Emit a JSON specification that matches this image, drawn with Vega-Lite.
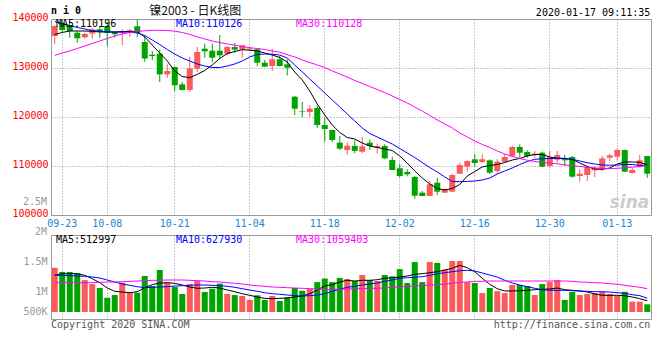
{
"$schema": "https://vega.github.io/schema/vega-lite/v6.json",
"padding": {"left": 11, "top": 4, "right": 0, "bottom": 0},
"background": "white",
"bounds": "flush",
"spacing": 20,
"config": {"view": {"stroke": "#999999", "strokeWidth": 1}, "axis": {"labelFont": "DejaVu Sans Mono", "labelFontSize": 10}},
"datasets": {"k": [
{"d":"2019-09-20","o":136530,"h":138670,"l":134840,"c":138570,"v":2010000,"m5":136840,"m10":139490,"m30":132550,"vm5":1668000,"vm10":1668000,"vm30":1332000},
{"d":"2019-09-23","o":139180,"h":139900,"l":137350,"c":137760,"v":1820000,"m5":137250,"m10":139080,"m30":133060,"vm5":1741000,"vm10":1668000,"vm30":1332000},
{"d":"2019-09-24","o":138780,"h":139590,"l":136180,"c":137550,"v":1820000,"m5":137550,"m10":138670,"m30":133470,"vm5":1741000,"vm10":1650000,"vm30":1332000},
{"d":"2019-09-25","o":137200,"h":137550,"l":135160,"c":136060,"v":1760000,"m5":137550,"m10":138270,"m30":133980,"vm5":1741000,"vm10":1636000,"vm30":1332000},
{"d":"2019-09-26","o":136270,"h":137140,"l":136020,"c":136940,"v":1450000,"m5":137550,"m10":137960,"m30":134490,"vm5":1668000,"vm10":1623000,"vm30":1332000},
{"d":"2019-09-27","o":137040,"h":138160,"l":135980,"c":137860,"v":1270000,"m5":137490,"m10":137650,"m30":135000,"vm5":1514000,"vm10":1591000,"vm30":1332000},
{"d":"2019-09-30","o":137900,"h":138570,"l":136180,"c":137350,"v":1090000,"m5":137350,"m10":137510,"m30":135510,"vm5":1332000,"vm10":1545000,"vm30":1350000},
{"d":"2019-10-08","o":138570,"h":139390,"l":134490,"c":137140,"v":650000,"m5":137350,"m10":137410,"m30":136020,"vm5":1091000,"vm10":1455000,"vm30":1364000},
{"d":"2019-10-09","o":137350,"h":137450,"l":136180,"c":136880,"v":770000,"m5":137350,"m10":137350,"m30":136530,"vm5":941000,"vm10":1364000,"vm30":1364000},
{"d":"2019-10-10","o":137200,"h":137900,"l":134690,"c":137550,"v":1330000,"m5":137410,"m10":137350,"m30":136940,"vm5":909000,"vm10":1273000,"vm30":1377000},
{"d":"2019-10-11","o":137200,"h":138020,"l":136390,"c":137690,"v":880000,"m5":137490,"m10":137350,"m30":137250,"vm5":877000,"vm10":1214000,"vm30":1395000},
{"d":"2019-10-14","o":138510,"h":139900,"l":136330,"c":137200,"v":880000,"m5":137410,"m10":137140,"m30":137450,"vm5":923000,"vm10":1150000,"vm30":1409000},
{"d":"2019-10-15","o":135310,"h":136530,"l":131290,"c":131940,"v":1640000,"m5":136330,"m10":136630,"m30":137590,"vm5":1105000,"vm10":1105000,"vm30":1423000},
{"d":"2019-10-16","o":132710,"h":133470,"l":131570,"c":132450,"v":1180000,"m5":134690,"m10":135710,"m30":137690,"vm5":1241000,"vm10":1123000,"vm30":1441000},
{"d":"2019-10-17","o":132920,"h":133820,"l":127140,"c":128710,"v":1910000,"m5":133060,"m10":134800,"m30":137690,"vm5":1318000,"vm10":1136000,"vm30":1441000},
{"d":"2019-10-18","o":128710,"h":130760,"l":128020,"c":129390,"v":1330000,"m5":131430,"m10":133780,"m30":137650,"vm5":1332000,"vm10":1150000,"vm30":1455000},
{"d":"2019-10-21","o":130200,"h":130300,"l":125310,"c":126470,"v":1140000,"m5":129390,"m10":132860,"m30":137510,"vm5":1305000,"vm10":1182000,"vm30":1455000},
{"d":"2019-10-22","o":126670,"h":127140,"l":125400,"c":125510,"v":820000,"m5":128270,"m10":132040,"m30":137250,"vm5":1227000,"vm10":1195000,"vm30":1455000},
{"d":"2019-10-23","o":125510,"h":132250,"l":125150,"c":129940,"v":1260000,"m5":128020,"m10":131430,"m30":136840,"vm5":1136000,"vm10":1214000,"vm30":1441000},
{"d":"2019-10-24","o":129860,"h":134290,"l":129180,"c":133270,"v":1410000,"m5":128710,"m10":130820,"m30":136370,"vm5":1077000,"vm10":1227000,"vm30":1423000},
{"d":"2019-10-25","o":133940,"h":134960,"l":132100,"c":133410,"v":910000,"m5":129490,"m10":130410,"m30":135920,"vm5":1091000,"vm10":1227000,"vm30":1409000},
{"d":"2019-10-28","o":133530,"h":134960,"l":131220,"c":132100,"v":1060000,"m5":130610,"m10":130100,"m30":135510,"vm5":1123000,"vm10":1214000,"vm30":1377000},
{"d":"2019-10-29","o":133530,"h":136740,"l":131780,"c":132590,"v":1290000,"m5":131940,"m10":130100,"m30":135200,"vm5":1091000,"vm10":1195000,"vm30":1364000},
{"d":"2019-10-30","o":132920,"h":134490,"l":132590,"c":134290,"v":820000,"m5":132960,"m10":130410,"m30":134900,"vm5":1000000,"vm10":1168000,"vm30":1332000},
{"d":"2019-10-31","o":134290,"h":135100,"l":133120,"c":133740,"v":770000,"m5":133370,"m10":130820,"m30":134650,"vm5":923000,"vm10":1123000,"vm30":1305000},
{"d":"2019-11-01","o":133820,"h":134690,"l":132100,"c":134630,"v":730000,"m5":133740,"m10":131430,"m30":134390,"vm5":832000,"vm10":1059000,"vm30":1273000},
{"d":"2019-11-04","o":133780,"h":134290,"l":133470,"c":133980,"v":550000,"m5":133630,"m10":132250,"m30":134140,"vm5":759000,"vm10":1000000,"vm30":1227000},
{"d":"2019-11-05","o":133820,"h":133900,"l":130410,"c":131080,"v":760000,"m5":133470,"m10":132760,"m30":133980,"vm5":682000,"vm10":941000,"vm30":1195000},
{"d":"2019-11-06","o":131080,"h":131630,"l":130270,"c":130270,"v":550000,"m5":133060,"m10":132860,"m30":133780,"vm5":623000,"vm10":877000,"vm30":1168000},
{"d":"2019-11-07","o":130410,"h":133940,"l":129390,"c":131780,"v":730000,"m5":132650,"m10":132800,"m30":133470,"vm5":605000,"vm10":832000,"vm30":1136000},
{"d":"2019-11-08","o":131780,"h":132450,"l":130340,"c":130410,"v":500000,"m5":132140,"m10":132650,"m30":133220,"vm5":623000,"vm10":805000,"vm30":1123000},
{"d":"2019-11-11","o":130750,"h":131780,"l":128490,"c":130060,"v":670000,"m5":131220,"m10":132040,"m30":132710,"vm5":636000,"vm10":773000,"vm30":1105000},
{"d":"2019-11-12","o":124140,"h":124290,"l":120410,"c":121690,"v":1090000,"m5":129180,"m10":130610,"m30":132250,"vm5":682000,"vm10":741000,"vm30":1091000},
{"d":"2019-11-13","o":121200,"h":123060,"l":120000,"c":121080,"v":970000,"m5":127550,"m10":129180,"m30":131630,"vm5":727000,"vm10":727000,"vm30":1077000},
{"d":"2019-11-14","o":121020,"h":122380,"l":120000,"c":121690,"v":1060000,"m5":125310,"m10":127760,"m30":131120,"vm5":832000,"vm10":741000,"vm30":1059000},
{"d":"2019-11-15","o":121840,"h":122310,"l":117760,"c":118370,"v":1360000,"m5":122650,"m10":126330,"m30":130610,"vm5":1000000,"vm10":773000,"vm30":1045000},
{"d":"2019-11-18","o":118370,"h":119860,"l":114960,"c":117550,"v":1520000,"m5":120410,"m10":124900,"m30":130100,"vm5":1182000,"vm10":832000,"vm30":1032000},
{"d":"2019-11-19","o":117350,"h":117400,"l":114900,"c":115310,"v":1360000,"m5":118370,"m10":123470,"m30":129390,"vm5":1245000,"vm10":941000,"vm30":1023000},
{"d":"2019-11-20","o":114760,"h":116120,"l":113270,"c":113530,"v":1550000,"m5":116840,"m10":122040,"m30":128780,"vm5":1364000,"vm10":1036000,"vm30":1032000},
{"d":"2019-11-21","o":113270,"h":114840,"l":112390,"c":114140,"v":1500000,"m5":115820,"m10":120610,"m30":128160,"vm5":1441000,"vm10":1123000,"vm30":1045000},
{"d":"2019-11-22","o":114100,"h":115270,"l":112590,"c":113080,"v":1410000,"m5":115510,"m10":119180,"m30":127450,"vm5":1409000,"vm10":1168000,"vm30":1059000},
{"d":"2019-11-25","o":112920,"h":115920,"l":112590,"c":114020,"v":1680000,"m5":114690,"m10":117760,"m30":126840,"vm5":1441000,"vm10":1227000,"vm30":1059000},
{"d":"2019-11-26","o":114760,"h":115430,"l":113270,"c":114080,"v":1450000,"m5":114080,"m10":116630,"m30":126220,"vm5":1441000,"vm10":1273000,"vm30":1077000},
{"d":"2019-11-27","o":113740,"h":114550,"l":112510,"c":114080,"v":1410000,"m5":113780,"m10":115920,"m30":125610,"vm5":1468000,"vm10":1318000,"vm30":1077000},
{"d":"2019-11-28","o":114080,"h":114430,"l":111370,"c":111570,"v":1680000,"m5":113470,"m10":115200,"m30":125000,"vm5":1532000,"vm10":1395000,"vm30":1091000},
{"d":"2019-11-29","o":111220,"h":111840,"l":109180,"c":109180,"v":1620000,"m5":113160,"m10":114490,"m30":124290,"vm5":1559000,"vm10":1455000,"vm30":1123000},
{"d":"2019-12-02","o":109530,"h":110350,"l":107610,"c":107960,"v":1950000,"m5":112040,"m10":113570,"m30":123570,"vm5":1591000,"vm10":1532000,"vm30":1136000},
{"d":"2019-12-03","o":108780,"h":109330,"l":107900,"c":108310,"v":1320000,"m5":110610,"m10":112650,"m30":122860,"vm5":1636000,"vm10":1559000,"vm30":1168000},
{"d":"2019-12-04","o":107760,"h":107960,"l":103330,"c":103940,"v":2270000,"m5":108980,"m10":111730,"m30":122040,"vm5":1714000,"vm10":1577000,"vm30":1182000},
{"d":"2019-12-05","o":104550,"h":104900,"l":103820,"c":103880,"v":1360000,"m5":107550,"m10":110710,"m30":121220,"vm5":1741000,"vm10":1605000,"vm30":1195000},
{"d":"2019-12-06","o":103880,"h":106940,"l":103880,"c":106270,"v":2270000,"m5":106330,"m10":109690,"m30":120310,"vm5":1786000,"vm10":1668000,"vm30":1227000},
{"d":"2019-12-09","o":106590,"h":107610,"l":104080,"c":104760,"v":2230000,"m5":105410,"m10":108780,"m30":119390,"vm5":1832000,"vm10":1741000,"vm30":1241000},
{"d":"2019-12-10","o":104550,"h":105450,"l":104490,"c":105250,"v":1920000,"m5":105100,"m10":107760,"m30":118570,"vm5":1909000,"vm10":1786000,"vm30":1273000},
{"d":"2019-12-11","o":104760,"h":108430,"l":104690,"c":108160,"v":2320000,"m5":105410,"m10":106840,"m30":117760,"vm5":1986000,"vm10":1832000,"vm30":1305000},
{"d":"2019-12-12","o":108430,"h":110670,"l":108430,"c":110200,"v":2320000,"m5":106220,"m10":106800,"m30":116730,"vm5":2123000,"vm10":1877000,"vm30":1350000},
{"d":"2019-12-13","o":109860,"h":111160,"l":108840,"c":111020,"v":1360000,"m5":107960,"m10":106840,"m30":115920,"vm5":2014000,"vm10":1895000,"vm30":1364000},
{"d":"2019-12-16","o":111370,"h":112390,"l":109860,"c":110610,"v":1320000,"m5":108880,"m10":106940,"m30":115100,"vm5":1832000,"vm10":1864000,"vm30":1395000},
{"d":"2019-12-17","o":110820,"h":112390,"l":110670,"c":111370,"v":860000,"m5":109800,"m10":107140,"m30":114390,"vm5":1532000,"vm10":1773000,"vm30":1395000},
{"d":"2019-12-18","o":111160,"h":111370,"l":108430,"c":108630,"v":1090000,"m5":110100,"m10":107550,"m30":113780,"vm5":1259000,"vm10":1682000,"vm30":1409000},
{"d":"2019-12-19","o":108980,"h":111370,"l":108430,"c":110880,"v":950000,"m5":110310,"m10":108370,"m30":113060,"vm5":1059000,"vm10":1591000,"vm30":1409000},
{"d":"2019-12-20","o":110880,"h":112390,"l":110670,"c":111840,"v":860000,"m5":110710,"m10":108980,"m30":112450,"vm5":955000,"vm10":1441000,"vm30":1409000},
{"d":"2019-12-23","o":112040,"h":114080,"l":111840,"c":113880,"v":1230000,"m5":111220,"m10":109590,"m30":111940,"vm5":955000,"vm10":1318000,"vm30":1409000},
{"d":"2019-12-24","o":113880,"h":114430,"l":111570,"c":112710,"v":1230000,"m5":111530,"m10":110310,"m30":111530,"vm5":968000,"vm10":1227000,"vm30":1409000},
{"d":"2019-12-25","o":112860,"h":113200,"l":111690,"c":112040,"v":1180000,"m5":112040,"m10":110920,"m30":111180,"vm5":986000,"vm10":1150000,"vm30":1409000},
{"d":"2019-12-26","o":112180,"h":113060,"l":111690,"c":112510,"v":770000,"m5":112350,"m10":111370,"m30":110920,"vm5":1014000,"vm10":1077000,"vm30":1409000},
{"d":"2019-12-27","o":112710,"h":112920,"l":109800,"c":109860,"v":1270000,"m5":112350,"m10":111470,"m30":110710,"vm5":1032000,"vm10":1014000,"vm30":1409000},
{"d":"2019-12-30","o":110000,"h":113060,"l":109650,"c":111840,"v":1360000,"m5":111840,"m10":111530,"m30":110610,"vm5":1045000,"vm10":986000,"vm30":1409000},
{"d":"2019-12-31","o":111290,"h":113060,"l":110670,"c":112250,"v":1450000,"m5":111570,"m10":111570,"m30":110450,"vm5":1091000,"vm10":986000,"vm30":1409000},
{"d":"2020-01-02","o":111570,"h":112250,"l":110000,"c":111160,"v":550000,"m5":111530,"m10":111570,"m30":110250,"vm5":1014000,"vm10":986000,"vm30":1409000},
{"d":"2020-01-03","o":111840,"h":112040,"l":107610,"c":107820,"v":910000,"m5":111330,"m10":111370,"m30":110060,"vm5":986000,"vm10":968000,"vm30":1395000},
{"d":"2020-01-06","o":107960,"h":109330,"l":106800,"c":108430,"v":770000,"m5":110610,"m10":111020,"m30":109900,"vm5":955000,"vm10":955000,"vm30":1364000},
{"d":"2020-01-07","o":108160,"h":110000,"l":106940,"c":109800,"v":820000,"m5":109900,"m10":110670,"m30":109730,"vm5":909000,"vm10":941000,"vm30":1350000},
{"d":"2020-01-08","o":109120,"h":110000,"l":107760,"c":109650,"v":860000,"m5":109390,"m10":110410,"m30":109590,"vm5":818000,"vm10":923000,"vm30":1332000},
{"d":"2020-01-09","o":109330,"h":112040,"l":108980,"c":111570,"v":910000,"m5":109330,"m10":110200,"m30":109490,"vm5":759000,"vm10":923000,"vm30":1318000},
{"d":"2020-01-10","o":111690,"h":112510,"l":111020,"c":112180,"v":820000,"m5":109590,"m10":110160,"m30":109450,"vm5":759000,"vm10":909000,"vm30":1286000},
{"d":"2020-01-13","o":111900,"h":113530,"l":111160,"c":113270,"v":730000,"m5":110410,"m10":110200,"m30":109530,"vm5":759000,"vm10":877000,"vm30":1259000},
{"d":"2020-01-14","o":113270,"h":113370,"l":108780,"c":108840,"v":920000,"m5":110820,"m10":110310,"m30":109630,"vm5":741000,"vm10":850000,"vm30":1214000},
{"d":"2020-01-15","o":108570,"h":109650,"l":108430,"c":109180,"v":470000,"m5":110820,"m10":110310,"m30":109760,"vm5":682000,"vm10":786000,"vm30":1168000},
{"d":"2020-01-16","o":109860,"h":112250,"l":109650,"c":111160,"v":470000,"m5":110760,"m10":110100,"m30":109880,"vm5":605000,"vm10":741000,"vm30":1123000},
{"d":"2020-01-17","o":112040,"h":112040,"l":107610,"c":108430,"v":350000,"m5":110196,"m10":110126,"m30":110128,"vm5":512997,"vm10":627930,"vm30":1059403}
]},
"vconcat": [
{
"width": 600, "height": 196,
"data": {"name": "k"},
"encoding": {"x": {"field": "d", "type": "ordinal", "scale": {"type": "band", "paddingInner": 0, "paddingOuter": 0},
  "axis": {"values": ["2019-09-23","2019-10-08","2019-10-21","2019-11-04","2019-11-18","2019-12-02","2019-12-16","2019-12-30","2020-01-13"],
    "labelExpr": "substring(datum.value, 5)", "labelAngle": 0, "labelColor": "#1a86d0", "labelPadding": 3,
    "ticks": false, "domain": false, "grid": true, "gridColor": "#999999", "gridDash": [1, 2], "title": null, "bandPosition": 0.5}}},
"layer": [
  {"mark": {"type": "rule", "strokeWidth": 1},
   "encoding": {"y": {"field": "l", "type": "quantitative", "scale": {"domain": [100000, 140000], "nice": false, "zero": false},
      "axis": {"values": [100000,105000,110000,115000,120000,125000,130000,135000,140000], "format": "d", "labelColor": "#ff0000", "labelPadding": 3, "labelOffset": -2,
        "ticks": false, "domain": false, "grid": true, "gridColor": "#999999", "gridDash": [1, 2], "title": null}},
     "y2": {"field": "h"},
     "color": {"condition": {"test": "datum.c >= datum.o", "value": "#fa5a5a"}, "value": "#00a400"}}},
  {"mark": {"type": "bar", "width": 6},
   "encoding": {"y": {"field": "o", "type": "quantitative"}, "y2": {"field": "c"},
     "color": {"condition": {"test": "datum.c >= datum.o", "value": "#fa5a5a"}, "value": "#00a400"}}},
  {"mark": {"type": "line", "color": "#000000", "strokeWidth": 1}, "encoding": {"y": {"field": "m5", "type": "quantitative"}}},
  {"mark": {"type": "line", "color": "#0000ff", "strokeWidth": 1}, "encoding": {"y": {"field": "m10", "type": "quantitative"}}},
  {"mark": {"type": "line", "color": "#ff00ff", "strokeWidth": 1}, "encoding": {"y": {"field": "m30", "type": "quantitative"}}},
  {"data": {"values": [{}]}, "mark": {"type": "text", "text": "MA5:110196", "align": "left", "baseline": "middle", "dx": 1.25, "font": "DejaVu Sans Mono", "fontSize": 10, "color": "#000000"},
   "encoding": {"x": {"datum": "2019-09-20", "type": "ordinal"}, "y": {"datum": 139080, "type": "quantitative"}}},
  {"data": {"values": [{}]}, "mark": {"type": "text", "text": "MA10:110126", "align": "left", "baseline": "middle", "dx": 1.25, "font": "DejaVu Sans Mono", "fontSize": 10, "color": "#0000ff"},
   "encoding": {"x": {"datum": "2019-10-21", "type": "ordinal"}, "y": {"datum": 139080, "type": "quantitative"}}},
  {"data": {"values": [{}]}, "mark": {"type": "text", "text": "MA30:110128", "align": "left", "baseline": "middle", "dx": 1.25, "font": "DejaVu Sans Mono", "fontSize": 10, "color": "#ff00ff"},
   "encoding": {"x": {"datum": "2019-11-12", "type": "ordinal"}, "y": {"datum": 139080, "type": "quantitative"}}},
  {"data": {"values": [{}]}, "mark": {"type": "text", "text": "n i 0", "align": "left", "baseline": "middle", "dx": -3.75, "font": "DejaVu Sans Mono", "fontSize": 10, "fontWeight": "bold", "color": "#000000"},
   "encoding": {"x": {"datum": "2019-09-20", "type": "ordinal"}, "y": {"datum": 141630, "type": "quantitative"}}},
  {"data": {"values": [{}]}, "mark": {"type": "text", "text": "镍2003 - 日K线图", "align": "center", "baseline": "middle", "dx": -2, "font": "Noto Sans CJK SC", "fontSize": 12, "color": "#111111"},
   "encoding": {"x": {"datum": "2019-10-24", "type": "ordinal"}, "y": {"datum": 141730, "type": "quantitative"}}},
  {"data": {"values": [{}]}, "mark": {"type": "text", "text": "2020-01-17 09:11:35", "align": "right", "baseline": "middle", "dx": 3, "font": "DejaVu Sans Mono", "fontSize": 10, "color": "#000000"},
   "encoding": {"x": {"datum": "2020-01-17", "type": "ordinal"}, "y": {"datum": 141220, "type": "quantitative"}}},
  {"data": {"values": [{}]}, "mark": {"type": "text", "text": "2.5M", "align": "right", "baseline": "middle", "dx": -7.75, "font": "DejaVu Sans Mono", "fontSize": 10, "color": "#999999"},
   "encoding": {"x": {"datum": "2019-09-20", "type": "ordinal"}, "y": {"datum": 102650, "type": "quantitative"}}},
  {"data": {"values": [{}]}, "mark": {"type": "text", "text": "sina", "align": "right", "baseline": "middle", "dx": 2, "font": "DejaVu Sans", "fontSize": 17, "fontWeight": "bold", "fontStyle": "italic", "color": "#cccccc"},
   "encoding": {"x": {"datum": "2020-01-17", "type": "ordinal"}, "y": {"datum": 102450, "type": "quantitative"}}}
]
},
{
"width": 600, "height": 84,
"data": {"name": "k"},
"encoding": {"x": {"field": "d", "type": "ordinal", "scale": {"type": "band", "paddingInner": 0, "paddingOuter": 0},
  "axis": {"values": ["2019-09-23","2019-10-08","2019-10-21","2019-11-04","2019-11-18","2019-12-02","2019-12-16","2019-12-30","2020-01-13"],
    "labels": false, "ticks": false, "domain": false, "grid": true, "gridColor": "#999999", "gridDash": [1, 2], "title": null, "bandPosition": 0.5}}},
"layer": [
  {"mark": {"type": "bar", "width": 6},
   "encoding": {"y": {"field": "v", "type": "quantitative", "scale": {"domain": [-318000, 3500000], "nice": false, "zero": false},
      "axis": {"values": [2545000, 2295000, 1605000, 932000, 695000, 45000],
        "labelExpr": "datum.value == 2295000 ? '1.5M' : datum.value == 932000 ? '1M' : datum.value == 45000 ? '500K' : ''",
        "labelColor": "#999999", "labelPadding": 4, "labelOverlap": false,
        "gridOpacity": {"condition": {"test": "datum.value == 2545000 || datum.value == 1605000 || datum.value == 695000", "value": 1}, "value": 0},
        "ticks": false, "domain": false, "grid": true, "gridColor": "#999999", "gridDash": [1, 2], "title": null}},
     "y2": {"datum": 0},
     "color": {"condition": {"test": "datum.c >= datum.o", "value": "#fa5a5a"}, "value": "#00a400"}}},
  {"mark": {"type": "line", "color": "#000000", "strokeWidth": 1}, "encoding": {"y": {"field": "vm5", "type": "quantitative"}}},
  {"mark": {"type": "line", "color": "#0000ff", "strokeWidth": 1}, "encoding": {"y": {"field": "vm10", "type": "quantitative"}}},
  {"mark": {"type": "line", "color": "#ff00ff", "strokeWidth": 1}, "encoding": {"y": {"field": "vm30", "type": "quantitative"}}},
  {"data": {"values": [{}]}, "mark": {"type": "text", "text": "MA5:512997", "align": "left", "baseline": "middle", "dx": 1.25, "font": "DejaVu Sans Mono", "fontSize": 10, "color": "#000000"},
   "encoding": {"x": {"datum": "2019-09-20", "type": "ordinal"}, "y": {"datum": 3295000, "type": "quantitative"}}},
  {"data": {"values": [{}]}, "mark": {"type": "text", "text": "MA10:627930", "align": "left", "baseline": "middle", "dx": 1.25, "font": "DejaVu Sans Mono", "fontSize": 10, "color": "#0000ff"},
   "encoding": {"x": {"datum": "2019-10-21", "type": "ordinal"}, "y": {"datum": 3295000, "type": "quantitative"}}},
  {"data": {"values": [{}]}, "mark": {"type": "text", "text": "MA30:1059403", "align": "left", "baseline": "middle", "dx": 1.25, "font": "DejaVu Sans Mono", "fontSize": 10, "color": "#ff00ff"},
   "encoding": {"x": {"datum": "2019-11-12", "type": "ordinal"}, "y": {"datum": 3295000, "type": "quantitative"}}},
  {"data": {"values": [{}]}, "mark": {"type": "text", "text": "2M", "align": "right", "baseline": "middle", "dx": -7.75, "font": "DejaVu Sans Mono", "fontSize": 10, "color": "#999999"},
   "encoding": {"x": {"datum": "2019-09-20", "type": "ordinal"}, "y": {"datum": 3659000, "type": "quantitative"}}},
  {"data": {"values": [{}]}, "mark": {"type": "text", "text": "Copyright 2020 SINA.COM", "align": "left", "baseline": "middle", "dx": -3.75, "font": "DejaVu Sans Mono", "fontSize": 10, "color": "#555555"},
   "encoding": {"x": {"datum": "2019-09-20", "type": "ordinal"}, "y": {"datum": -568000, "type": "quantitative"}}},
  {"data": {"values": [{}]}, "mark": {"type": "text", "text": "http://finance.sina.com.cn", "align": "right", "baseline": "middle", "dx": 3, "font": "DejaVu Sans Mono", "fontSize": 10, "color": "#555555"},
   "encoding": {"x": {"datum": "2020-01-17", "type": "ordinal"}, "y": {"datum": -568000, "type": "quantitative"}}}
]
}
]
}
